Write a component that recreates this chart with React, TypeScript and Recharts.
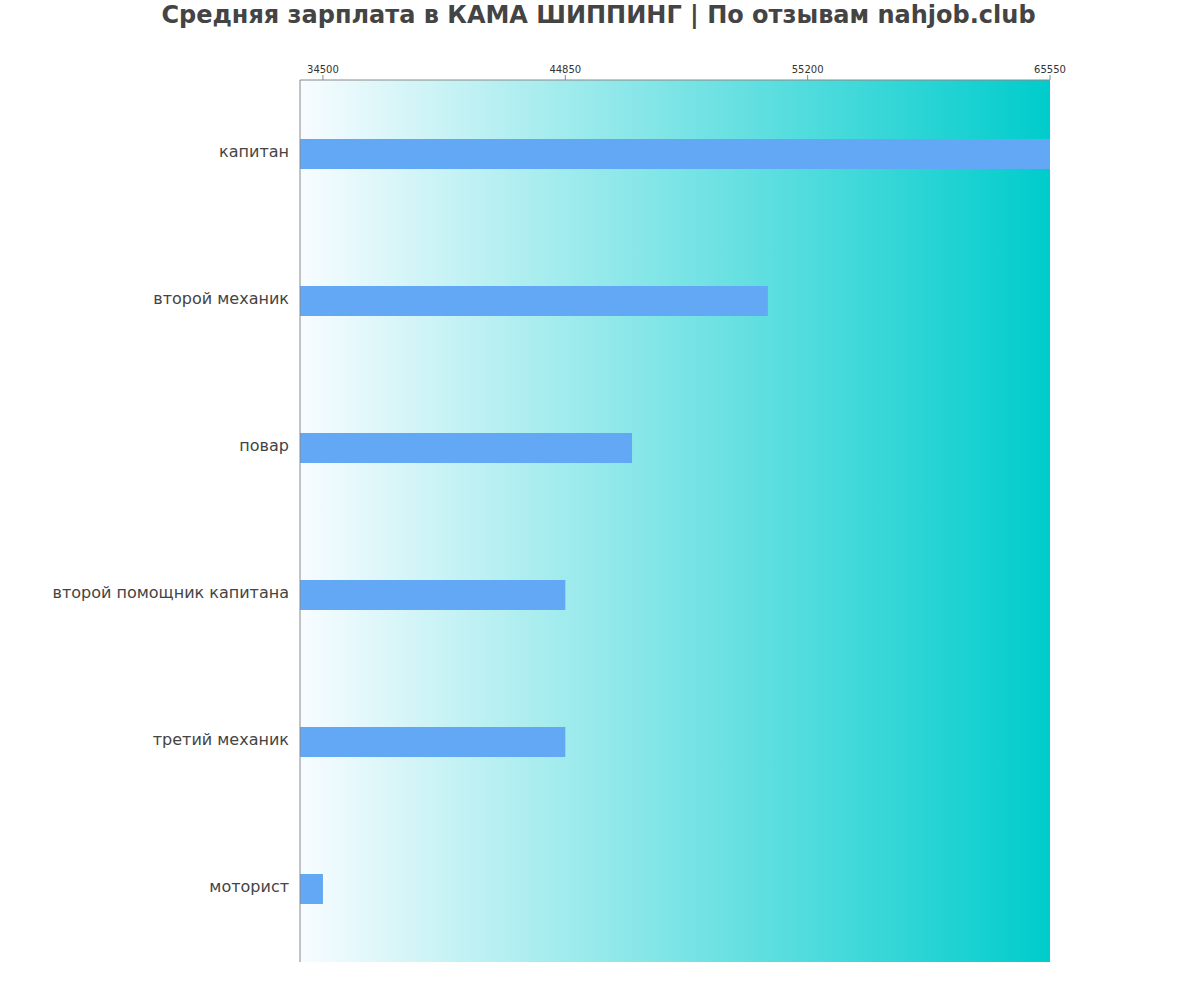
import { BarChart, Bar, XAxis, YAxis, ReferenceArea } from "recharts"

const categories = [
  "капитан",
  "второй механик",
  "повар",
  "второй помощник капитана",
  "третий механик",
  "моторист",
]
const salaries = [65550, 53500, 47700, 44850, 44850, 34500]
const ticks = [34500, 44850, 55200, 65550]
const domainMin = 33520
const domainMax = 65550

const data = categories.map((name, i) => ({ name, value: salaries[i] }))

export default function App() {
  return (
    <div style={{ position: "absolute", left: 0, top: 0, width: 1200, height: 1000, background: "#fff" }}>
      <div
        style={{
          position: "absolute",
          top: 0,
          left: 0,
          width: 1197,
          textAlign: "center",
          fontFamily: "DejaVu Sans",
          fontWeight: "bold",
          fontSize: 24,
          color: "#444",
          lineHeight: "30px",
        }}
      >
        Средняя зарплата в КАМА ШИППИНГ | По отзывам nahjob.club
      </div>
      <BarChart
        width={1200}
        height={1000}
        data={data}
        layout="vertical"
        margin={{ top: 50, right: 150, bottom: 38, left: 0 }}
        barSize={30}
      >
        <defs>
          <linearGradient id="bg" x1="0" y1="0" x2="1" y2="0">
            <stop offset="0%" stopColor="#f8fcff" />
            <stop offset="100%" stopColor="#00cccc" />
          </linearGradient>
        </defs>
        <ReferenceArea x1={domainMin} x2={domainMax} fill="url(#bg)" fillOpacity={1} stroke="none" ifOverflow="extendDomain" />
        <XAxis
          type="number"
          orientation="top"
          domain={[domainMin, domainMax]}
          ticks={ticks}
          height={30}
          stroke="#888"
          tickSize={5}
          tick={{ fontSize: 10, fill: "#333", fontFamily: "DejaVu Sans" }}
          allowDataOverflow
        />
        <YAxis
          type="category"
          dataKey="name"
          width={300}
          stroke="#888"
          tickLine={false}
          tickMargin={5}
          tick={{ fontSize: 16, fill: "#444", fontFamily: "DejaVu Sans", dy: -2 }}
        />
        <Bar dataKey="value" fill="#62a8f4" isAnimationActive={false} />
      </BarChart>
    </div>
  )
}
